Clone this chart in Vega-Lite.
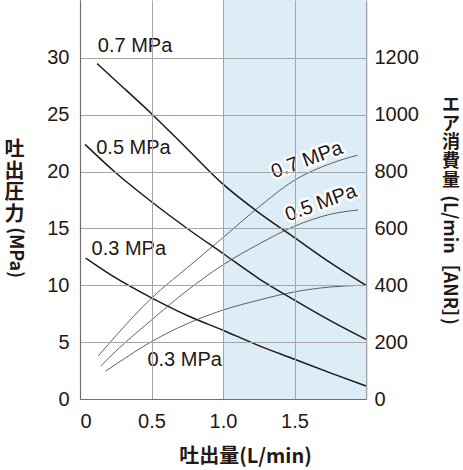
{
  "$schema": "https://vega.github.io/schema/vega-lite/v6.json",
  "autosize": {"type": "none"},
  "padding": {"left": 80, "top": 0, "right": 97, "bottom": 71},
  "width": 286,
  "height": 399,
  "background": "white",
  "config": {"view": {"stroke": null}, "font": "Liberation Sans"},
  "datasets": {
    "band": [{"flow": 1.0, "flow_end": 2.0}],
    "pressure": [
      {"series": "0.7 MPa", "flow": 0.12, "value": 29.5},
      {"series": "0.7 MPa", "flow": 0.25, "value": 28.0},
      {"series": "0.7 MPa", "flow": 0.5, "value": 25.1},
      {"series": "0.7 MPa", "flow": 0.75, "value": 22.0},
      {"series": "0.7 MPa", "flow": 1.0, "value": 18.9},
      {"series": "0.7 MPa", "flow": 1.25, "value": 16.4},
      {"series": "0.7 MPa", "flow": 1.5, "value": 14.2},
      {"series": "0.7 MPa", "flow": 1.75, "value": 12.0},
      {"series": "0.7 MPa", "flow": 2.0, "value": 10.0},
      {"series": "0.5 MPa", "flow": 0.035, "value": 22.4},
      {"series": "0.5 MPa", "flow": 0.25, "value": 19.9},
      {"series": "0.5 MPa", "flow": 0.5, "value": 17.35},
      {"series": "0.5 MPa", "flow": 0.75, "value": 15.0},
      {"series": "0.5 MPa", "flow": 1.0, "value": 12.8},
      {"series": "0.5 MPa", "flow": 1.25, "value": 10.6},
      {"series": "0.5 MPa", "flow": 1.5, "value": 8.7},
      {"series": "0.5 MPa", "flow": 1.75, "value": 6.9},
      {"series": "0.5 MPa", "flow": 2.0, "value": 5.25},
      {"series": "0.3 MPa", "flow": 0.04, "value": 12.4},
      {"series": "0.3 MPa", "flow": 0.25, "value": 10.65},
      {"series": "0.3 MPa", "flow": 0.5, "value": 8.9},
      {"series": "0.3 MPa", "flow": 0.75, "value": 7.35},
      {"series": "0.3 MPa", "flow": 1.0, "value": 6.05},
      {"series": "0.3 MPa", "flow": 1.25, "value": 4.7},
      {"series": "0.3 MPa", "flow": 1.5, "value": 3.5},
      {"series": "0.3 MPa", "flow": 1.75, "value": 2.3},
      {"series": "0.3 MPa", "flow": 2.0, "value": 1.15}
    ],
    "air": [
      {"series": "0.7 MPa", "flow": 0.127, "air": 151},
      {"series": "0.7 MPa", "flow": 0.25, "air": 222},
      {"series": "0.7 MPa", "flow": 0.5, "air": 355},
      {"series": "0.7 MPa", "flow": 0.75, "air": 462},
      {"series": "0.7 MPa", "flow": 1.0, "air": 568},
      {"series": "0.7 MPa", "flow": 1.25, "air": 675},
      {"series": "0.7 MPa", "flow": 1.5, "air": 770},
      {"series": "0.7 MPa", "flow": 1.75, "air": 828},
      {"series": "0.7 MPa", "flow": 1.94, "air": 858},
      {"series": "0.5 MPa", "flow": 0.144, "air": 116},
      {"series": "0.5 MPa", "flow": 0.25, "air": 168},
      {"series": "0.5 MPa", "flow": 0.5, "air": 278},
      {"series": "0.5 MPa", "flow": 0.75, "air": 382},
      {"series": "0.5 MPa", "flow": 1.0, "air": 472},
      {"series": "0.5 MPa", "flow": 1.25, "air": 545},
      {"series": "0.5 MPa", "flow": 1.5, "air": 608},
      {"series": "0.5 MPa", "flow": 1.75, "air": 650},
      {"series": "0.5 MPa", "flow": 1.944, "air": 665},
      {"series": "0.3 MPa", "flow": 0.178, "air": 98},
      {"series": "0.3 MPa", "flow": 0.25, "air": 122},
      {"series": "0.3 MPa", "flow": 0.5, "air": 202},
      {"series": "0.3 MPa", "flow": 0.75, "air": 265},
      {"series": "0.3 MPa", "flow": 1.0, "air": 313},
      {"series": "0.3 MPa", "flow": 1.25, "air": 348},
      {"series": "0.3 MPa", "flow": 1.5, "air": 377},
      {"series": "0.3 MPa", "flow": 1.75, "air": 394},
      {"series": "0.3 MPa", "flow": 1.956, "air": 400}
    ],
    "labels": [
      {"kind": "flat", "text": "0.7 MPa", "flow": 0.385, "value": 31.09},
      {"kind": "flat", "text": "0.5 MPa", "flow": 0.374, "value": 22.12},
      {"kind": "flat", "text": "0.3 MPa", "flow": 0.341, "value": 13.19},
      {"kind": "flat", "text": "0.3 MPa", "flow": 0.732, "value": 3.43},
      {"kind": "tilted", "text": "0.7 MPa", "flow": 1.587, "value": 21.02},
      {"kind": "tilted", "text": "0.5 MPa", "flow": 1.685, "value": 17.24}
    ],
    "titles": [
      {"kind": "left_stack", "text": "吐\n出\n圧\n力", "flow": -0.458, "value": 22.78},
      {"kind": "right_stack", "text": "エ\nア\n消\n費\n量", "flow": 2.594, "value": 26.56},
      {"kind": "turned", "text": "(MPa)", "flow": -0.458, "value": 12.88},
      {"kind": "turned", "text": "(L/min［ANR］)", "flow": 2.58, "value": 12.23}
    ]
  },
  "layer": [
    {
      "layer": [
        {
          "data": {"name": "band"},
          "mark": {"type": "rect", "color": "#dcedf8"},
          "encoding": {
            "x": {"field": "flow", "type": "quantitative", "scale": {"domain": [0, 2], "nice": false, "zero": false},
              "axis": {
                "values": [0, 0.5, 1, 1.5],
                "labelExpr": "datum.value == 0 ? '0' : format(datum.value, '.1f')",
                "labelAlign": {"condition": {"test": "datum.value == 0", "value": "left"}, "value": "center"},
                "grid": true, "gridColor": "#a5a5a5", "gridWidth": 1,
                "ticks": false, "domainColor": "#6f6f6f", "domainWidth": 1.2,
                "labelFont": "Liberation Sans", "labelFontSize": 20, "labelColor": "#231815", "labelPadding": 12,
                "title": "吐出量(L/min)", "titleFont": "Noto Sans CJK JP", "titleFontSize": 20, "titleFontWeight": "bold",
                "titleColor": "#231815", "titleX": 165, "titleY": 57, "titleBaseline": "middle", "titleAlign": "center",
                "zindex": 1
              }
            },
            "x2": {"field": "flow_end"}
          }
        },
        {
          "data": {"name": "pressure"},
          "mark": {"type": "line", "interpolate": "monotone", "color": "#231815", "strokeWidth": 1.5},
          "encoding": {
            "x": {"field": "flow", "type": "quantitative", "scale": {"domain": [0, 2], "nice": false, "zero": false}},
            "y": {"field": "value", "type": "quantitative", "scale": {"domain": [0, 35.1], "nice": false},
              "axis": {
                "orient": "left", "values": [0, 5, 10, 15, 20, 25, 30],
                "grid": true, "gridColor": "#a5a5a5", "gridWidth": 1,
                "ticks": false, "domainColor": "#6f6f6f", "domainWidth": 1.2,
                "labelFont": "Liberation Sans", "labelFontSize": 20, "labelColor": "#231815", "labelPadding": 11,
                "title": null, "zindex": 1
              }
            },
            "detail": {"field": "series"}
          }
        },
        {
          "data": {"name": "labels"},
          "transform": [{"filter": "datum.kind == 'flat'"}],
          "mark": {"type": "text", "font": "Liberation Sans", "fontSize": 20, "align": "center", "baseline": "middle", "fill": "white", "stroke": "white", "strokeWidth": 4, "strokeJoin": "round"},
          "encoding": {
            "x": {"field": "flow", "type": "quantitative"},
            "y": {"field": "value", "type": "quantitative"},
            "text": {"field": "text"}
          }
        },
        {
          "data": {"name": "labels"},
          "transform": [{"filter": "datum.kind == 'flat'"}],
          "mark": {"type": "text", "font": "Liberation Sans", "fontSize": 20, "align": "center", "baseline": "middle", "color": "#231815"},
          "encoding": {
            "x": {"field": "flow", "type": "quantitative"},
            "y": {"field": "value", "type": "quantitative"},
            "text": {"field": "text"}
          }
        },
        {
          "data": {"name": "labels"},
          "transform": [{"filter": "datum.kind == 'tilted'"}],
          "mark": {"type": "text", "font": "Liberation Sans", "fontSize": 20, "angle": -20, "align": "center", "baseline": "middle", "fill": "white", "stroke": "white", "strokeWidth": 5, "strokeJoin": "round"},
          "encoding": {
            "x": {"field": "flow", "type": "quantitative"},
            "y": {"field": "value", "type": "quantitative"},
            "text": {"field": "text"}
          }
        },
        {
          "data": {"name": "labels"},
          "transform": [{"filter": "datum.kind == 'tilted'"}],
          "mark": {"type": "text", "font": "Liberation Sans", "fontSize": 20, "angle": -20, "align": "center", "baseline": "middle", "color": "#231815"},
          "encoding": {
            "x": {"field": "flow", "type": "quantitative"},
            "y": {"field": "value", "type": "quantitative"},
            "text": {"field": "text"}
          }
        },
        {
          "data": {"name": "titles"},
          "transform": [{"filter": "datum.kind == 'left_stack'"}],
          "mark": {"type": "text", "lineBreak": "\n", "font": "Noto Sans CJK JP", "fontWeight": "bold", "fontSize": 20, "lineHeight": 21.7, "align": "center", "baseline": "top", "color": "#231815"},
          "encoding": {
            "x": {"field": "flow", "type": "quantitative"},
            "y": {"field": "value", "type": "quantitative"},
            "text": {"field": "text"}
          }
        },
        {
          "data": {"name": "titles"},
          "transform": [{"filter": "datum.kind == 'right_stack'"}],
          "mark": {"type": "text", "lineBreak": "\n", "font": "Noto Sans CJK JP", "fontWeight": "bold", "fontSize": 18, "lineHeight": 18.7, "align": "center", "baseline": "top", "color": "#231815"},
          "encoding": {
            "x": {"field": "flow", "type": "quantitative"},
            "y": {"field": "value", "type": "quantitative"},
            "text": {"field": "text"}
          }
        },
        {
          "data": {"name": "titles"},
          "transform": [{"filter": "datum.kind == 'turned'"}],
          "mark": {"type": "text", "font": "Noto Sans CJK JP", "fontWeight": "bold", "fontSize": 18, "angle": 90, "align": "center", "baseline": "middle", "color": "#231815"},
          "encoding": {
            "x": {"field": "flow", "type": "quantitative"},
            "y": {"field": "value", "type": "quantitative"},
            "text": {"field": "text"}
          }
        }
      ]
    },
    {
      "layer": [
        {
          "data": {"name": "air"},
          "mark": {"type": "line", "interpolate": "monotone", "color": "#3e3a39", "strokeWidth": 0.8},
          "encoding": {
            "x": {"field": "flow", "type": "quantitative", "scale": {"domain": [0, 2], "nice": false, "zero": false}},
            "y": {"field": "air", "type": "quantitative", "scale": {"domain": [0, 1404], "nice": false},
              "axis": {
                "orient": "right", "values": [0, 200, 400, 600, 800, 1000, 1200], "format": "d",
                "grid": false, "ticks": false, "domainColor": "#a0a0a0", "domainWidth": 1.6,
                "labelFont": "Liberation Sans", "labelFontSize": 20, "labelColor": "#231815", "labelPadding": 8,
                "title": null
              }
            },
            "detail": {"field": "series"}
          }
        }
      ]
    }
  ],
  "resolve": {"scale": {"y": "independent"}}
}
